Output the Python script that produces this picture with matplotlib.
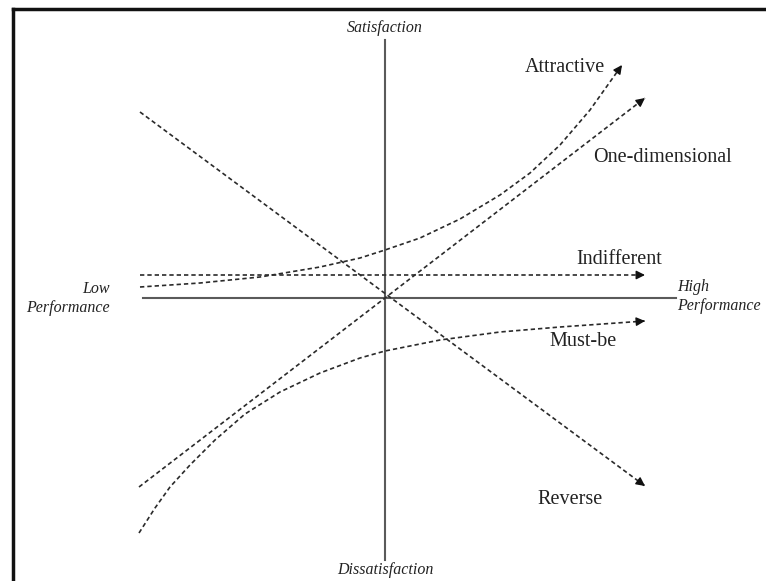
import matplotlib.pyplot as plt
from matplotlib.lines import Line2D
import numpy as np

plt.rcParams['font.family'] = ['Liberation Serif', 'DejaVu Serif']

# curves of the Kano model (performance, satisfaction)
attractive_x = [-0.98, -0.74, -0.50, -0.26, -0.10, 0.0, 0.14, 0.30, 0.46, 0.58, 0.70, 0.82, 0.948]
attractive_y = [0.044, 0.06, 0.084, 0.124, 0.16, 0.192, 0.24, 0.316, 0.412, 0.50, 0.612, 0.752, 0.932]

one_dim_x = [-0.984, 0.0, 1.04]
one_dim_y = [-0.756, 0.0, 0.80]

indifferent_x = [-0.98, 1.04]
indifferent_y = [0.092, 0.092]

must_be_x = [-0.984, -0.92, -0.86, -0.78, -0.68, -0.56, -0.42, -0.26, -0.10, 0.0,
             0.22, 0.46, 0.70, 1.04]
must_be_y = [-0.94, -0.84, -0.756, -0.668, -0.568, -0.464, -0.376, -0.30, -0.24, -0.212,
             -0.168, -0.136, -0.116, -0.092]

reverse_x = [-0.98, 1.04]
reverse_y = [0.744, -0.752]

curves = [
    (attractive_x, attractive_y),
    (one_dim_x, one_dim_y),
    (indifferent_x, indifferent_y),
    (must_be_x, must_be_y),
    (reverse_x, reverse_y),
]

names = ['Attractive', 'One-dimensional', 'Indifferent', 'Must-be', 'Reverse']
name_x = [0.72, 1.108, 0.936, 0.792, 0.74]
name_y = [0.924, 0.56, 0.156, -0.172, -0.808]

fig = plt.figure(figsize=(7.66, 5.81), dpi=100)
ax = fig.add_axes([0, 0, 1, 1])
ax.set_xlim(-1.54, 1.524)
ax.set_ylim(-1.132, 1.192)
ax.axis('off')

# axes of the diagram
ax.plot([-0.968, 1.164], [0, 0], color='#5a5a5a', lw=1.5)
ax.plot([0, 0], [-1.048, 1.032], color='#5a5a5a', lw=1.5)

for xs, ys in curves:
    ax.plot(xs, ys, color='#2a2a2a', lw=1.2, linestyle=(0, (2.6, 1.8)))
    dx = xs[-1] - xs[-2]
    dy = ys[-1] - ys[-2]
    d = np.hypot(dx, dy)
    ax.annotate('', xy=(xs[-1], ys[-1]),
                xytext=(xs[-1] - 0.03 * dx / d, ys[-1] - 0.03 * dy / d),
                arrowprops=dict(arrowstyle='-|>', color='#111111', lw=1,
                                mutation_scale=13, shrinkA=0, shrinkB=0))

for name, x, y in zip(names, name_x, name_y):
    ax.text(x, y, name, fontsize=14.5, ha='center', va='center', color='#222222')

ax.text(0, 1.08, 'Satisfaction', fontsize=11.5, style='italic', ha='center', va='center', color='#222222')
ax.text(0, -1.088, 'Dissatisfaction', fontsize=11.5, style='italic', ha='center', va='center', color='#222222')
ax.text(-1.1, 0.036, 'Low', fontsize=11.5, style='italic', ha='right', va='center', color='#222222')
ax.text(-1.1, -0.04, 'Performance', fontsize=11.5, style='italic', ha='right', va='center', color='#222222')
ax.text(1.168, 0.044, 'High', fontsize=11.5, style='italic', ha='left', va='center', color='#222222')
ax.text(1.168, -0.032, 'Performance', fontsize=11.5, style='italic', ha='left', va='center', color='#222222')

# frame on the left and top edges
fig.add_artist(Line2D([0.017, 0.017], [0, 0.985], color='#111111', lw=2.5))
fig.add_artist(Line2D([0.017, 1], [0.985, 0.985], color='#111111', lw=2.5))

fig.savefig('out.png', dpi=100)
